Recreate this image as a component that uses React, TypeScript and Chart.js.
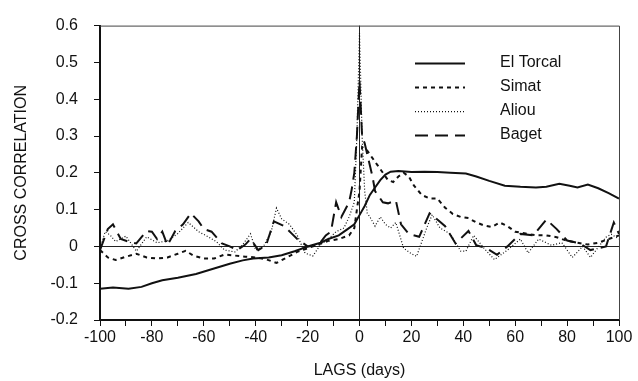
import React, { useEffect, useRef } from "react";
import { Chart, registerables } from "chart.js";

Chart.register(...registerables);

const seriesNames = ["El Torcal", "Simat", "Aliou", "Baget"];

const torcalLags = [-100, -95, -89, -84, -80, -76, -70, -63, -57, -50, -45, -41, -35, -30, -25, -19, -15, -12, -8, -5, -2, 0, 2, 4, 6, 8, 10, 12, 15, 20, 25, 30, 35, 41, 45, 50, 56, 62, 68, 72, 77, 81, 84, 88, 92, 96, 100];
const torcalValues = [-0.115, -0.112, -0.115, -0.11, -0.1, -0.092, -0.085, -0.075, -0.062, -0.047, -0.038, -0.033, -0.03, -0.024, -0.013, 0.002, 0.01, 0.02, 0.03, 0.045, 0.06, 0.085, 0.11, 0.14, 0.16, 0.18, 0.195, 0.203, 0.205, 0.202, 0.203, 0.202, 0.2, 0.198, 0.19, 0.178, 0.165, 0.162, 0.16, 0.162, 0.17, 0.165, 0.16, 0.168, 0.158, 0.145, 0.13];

const simatLags = [-100, -97, -94, -90, -86, -82, -78, -74, -70, -67, -64, -60, -56, -52, -48, -44, -40, -36, -32, -28, -24, -20, -16, -12, -8, -4, -2, 0, 1, 3, 5, 7, 9, 11, 13, 15, 17, 19, 21, 24, 27, 30, 33, 36, 39, 42, 45, 48, 51, 54, 57, 60, 64, 68, 72, 76, 80, 84, 88, 92, 96, 100];
const simatValues = [-0.01, -0.03, -0.037, -0.028, -0.02, -0.03, -0.033, -0.03, -0.02, -0.012, -0.025, -0.033, -0.033, -0.022, -0.025, -0.028, -0.03, -0.035, -0.045, -0.03, -0.015, -0.005, 0.005, 0.015, 0.02, 0.03, 0.05, 0.15, 0.27, 0.26, 0.24, 0.22, 0.2, 0.18, 0.175, 0.19, 0.2, 0.19, 0.165, 0.14, 0.13, 0.13, 0.105, 0.088, 0.08, 0.077, 0.065, 0.057, 0.053, 0.065, 0.055, 0.04, 0.035, 0.03, 0.03, 0.025, 0.015, 0.01, 0.005, 0.01, 0.02, 0.03];

const aliouLags = [-100, -98, -96, -94, -90, -86, -82, -78, -74, -70, -66, -62, -58, -55, -52, -48, -45, -42, -40, -37, -34, -32, -30, -27, -24, -21, -18, -15, -12, -9, -6, -4, -2, -1, 0, 1, 2, 3, 4, 6, 8, 10, 12, 14, 17, 20, 22, 26, 28, 31, 35, 39, 41, 44, 48, 52, 57, 62, 65, 69, 74, 78, 82, 86, 89, 95, 97, 100];
const aliouValues = [-0.005, 0.04, 0.03, 0.013, 0.028, -0.013, 0.026, 0.01, 0.015, 0.035, 0.065, 0.04, 0.025, 0.012, -0.01, -0.015, 0.005, 0.034, -0.01, 0.0, 0.04, 0.104, 0.075, 0.06, 0.03, -0.018, -0.026, 0.005, 0.02, 0.04, 0.05, 0.08, 0.12, 0.3, 0.58, 0.3, 0.15, 0.09, 0.08, 0.055, 0.08, 0.06, 0.05, 0.065, -0.005, -0.02, -0.027, 0.052, 0.086, 0.05, 0.034, -0.013, -0.013, 0.03, -0.005, -0.036, -0.01, 0.02, -0.018, 0.02, 0.003, 0.01, -0.03, 0.0, -0.03, 0.025, 0.033, 0.02];

const bagetLags = [-100, -97, -95, -92, -89, -86, -82, -80, -78, -76, -74, -71, -68, -65, -62, -60, -57, -53, -50, -47, -44, -42, -39, -36, -33, -29, -26, -24, -20, -16, -13, -11, -9, -7, -4, -3, -2, -1, 0, 1, 2, 3, 5, 6, 9, 11, 14, 16, 19, 23, 27, 30, 33, 37, 42, 45, 49, 53, 57, 62, 67, 72, 76, 80, 85, 89, 95, 98, 100];
const bagetValues = [-0.01, 0.047, 0.06, 0.02, 0.013, 0.008, 0.042, 0.04, 0.02, 0.04, 0.003, 0.042, 0.06, 0.09, 0.068, 0.047, 0.04, 0.008, 0.0, -0.01, 0.005, 0.02, -0.01, 0.003, 0.068, 0.055, 0.034, 0.02, 0.0, 0.002, 0.03, 0.04, 0.12, 0.08, 0.12, 0.155, 0.2, 0.3, 0.45, 0.3, 0.28, 0.25, 0.19, 0.15, 0.12, 0.117, 0.125, 0.06, 0.034, 0.026, 0.09, 0.073, 0.055, 0.008, 0.042, 0.003, -0.005, -0.023, 0.0, 0.034, 0.03, 0.073, 0.047, 0.016, 0.008, -0.01, 0.0, 0.065, 0.034];

const FONT = "'Liberation Sans', Arial, Helvetica, sans-serif";
const INK = "#111";

const seriesStyles = [
  { dash: [] as number[], width: 2 },
  { dash: [4, 4], width: 2 },
  { dash: [1, 2], width: 1.2 },
  { dash: [13, 7], width: 2 },
];

const framePlugin = {
  id: "frame",
  beforeDatasetsDraw(chart: any) {
    const { ctx, chartArea: a } = chart;
    ctx.save();
    ctx.strokeStyle = "#444";
    ctx.lineWidth = 1;
    ctx.beginPath();
    ctx.moveTo(a.left, a.top + 0.5);
    ctx.lineTo(a.right + 0.5, a.top + 0.5);
    ctx.lineTo(a.right + 0.5, a.bottom);
    ctx.stroke();
    ctx.restore();
  },
};

const legendPlugin = {
  id: "customLegend",
  afterDatasetsDraw(chart: any) {
    const { ctx, chartArea: a } = chart;
    ctx.save();
    chart.data.datasets.forEach((ds: any, i: number) => {
      const y = a.top + 37 + i * 24;
      ctx.beginPath();
      ctx.setLineDash(ds.borderDash || []);
      ctx.lineWidth = ds.borderWidth;
      ctx.strokeStyle = INK;
      ctx.moveTo(a.left + 315, y + 1);
      ctx.lineTo(a.left + 365, y + 1);
      ctx.stroke();
      ctx.setLineDash([]);
      ctx.fillStyle = INK;
      ctx.font = `16px ${FONT}`;
      ctx.textBaseline = "middle";
      ctx.textAlign = "left";
      ctx.fillText(ds.label, a.left + 400, y);
    });
    ctx.restore();
  },
};

export default function App() {
  const ref = useRef<HTMLCanvasElement | null>(null);
  useEffect(() => {
    document.body.style.margin = "0";
    const canvas = ref.current;
    if (!canvas) return;
    const lagSets = [torcalLags, simatLags, aliouLags, bagetLags];
    const valueSets = [torcalValues, simatValues, aliouValues, bagetValues];
    const tickFont = { family: FONT, size: 16 };
    const chart = new Chart(canvas, {
      type: "line",
      data: {
        datasets: seriesNames.map((name, i) => ({
          label: name,
          data: lagSets[i].map((x, j) => ({ x, y: valueSets[i][j] })),
          borderColor: INK,
          borderWidth: seriesStyles[i].width,
          borderDash: seriesStyles[i].dash,
          pointRadius: 0,
          tension: 0,
          fill: false,
        })),
      },
      options: {
        animation: false,
        responsive: false,
        layout: { padding: { left: 0, top: 13, right: 19, bottom: 0 } },
        plugins: { legend: { display: false }, tooltip: { enabled: false } },
        scales: {
          x: {
            type: "linear",
            min: -100,
            max: 100,
            afterFit: (s: any) => {
              s.height = 61;
            },
            border: { display: true, color: INK, width: 2 },
            grid: {
              drawOnChartArea: true,
              color: (c: any) => (c.tick && c.tick.value === 0 ? "#222" : "rgba(0,0,0,0)"),
              tickColor: INK,
              tickLength: 6,
              lineWidth: 1,
            },
            ticks: {
              stepSize: 10,
              autoSkip: false,
              maxRotation: 0,
              padding: 2,
              color: INK,
              font: tickFont,
              callback: (v: any) => (Math.round(v) % 20 === 0 ? String(Math.round(v)) : ""),
            },
            title: {
              display: true,
              text: "LAGS (days)",
              color: INK,
              font: tickFont,
              padding: { top: 0, bottom: 1 },
            },
          },
          y: {
            type: "linear",
            min: -0.2,
            max: 0.6,
            afterFit: (s: any) => {
              s.width = 100;
            },
            border: { display: true, color: INK, width: 2 },
            grid: {
              drawOnChartArea: true,
              color: (c: any) => (c.tick && Math.abs(c.tick.value) < 1e-9 ? "#222" : "rgba(0,0,0,0)"),
              tickColor: INK,
              tickLength: 6,
              lineWidth: 1,
            },
            ticks: {
              stepSize: 0.1,
              padding: 16,
              color: INK,
              font: tickFont,
              callback: (v: any) => {
                const r = Math.round(v * 10) / 10;
                return r === 0 ? "0" : r.toFixed(1);
              },
            },
            title: {
              display: true,
              text: "CROSS CORRELATION",
              color: INK,
              font: tickFont,
              padding: { top: 12, bottom: 0 },
            },
          },
        },
      },
      plugins: [framePlugin, legendPlugin],
    } as any);
    return () => chart.destroy();
  }, []);
  return (
    <div style={{ width: 638, height: 381, background: "#fff" }}>
      <canvas ref={ref} width={638} height={381} style={{ display: "block" }} />
    </div>
  );
}
